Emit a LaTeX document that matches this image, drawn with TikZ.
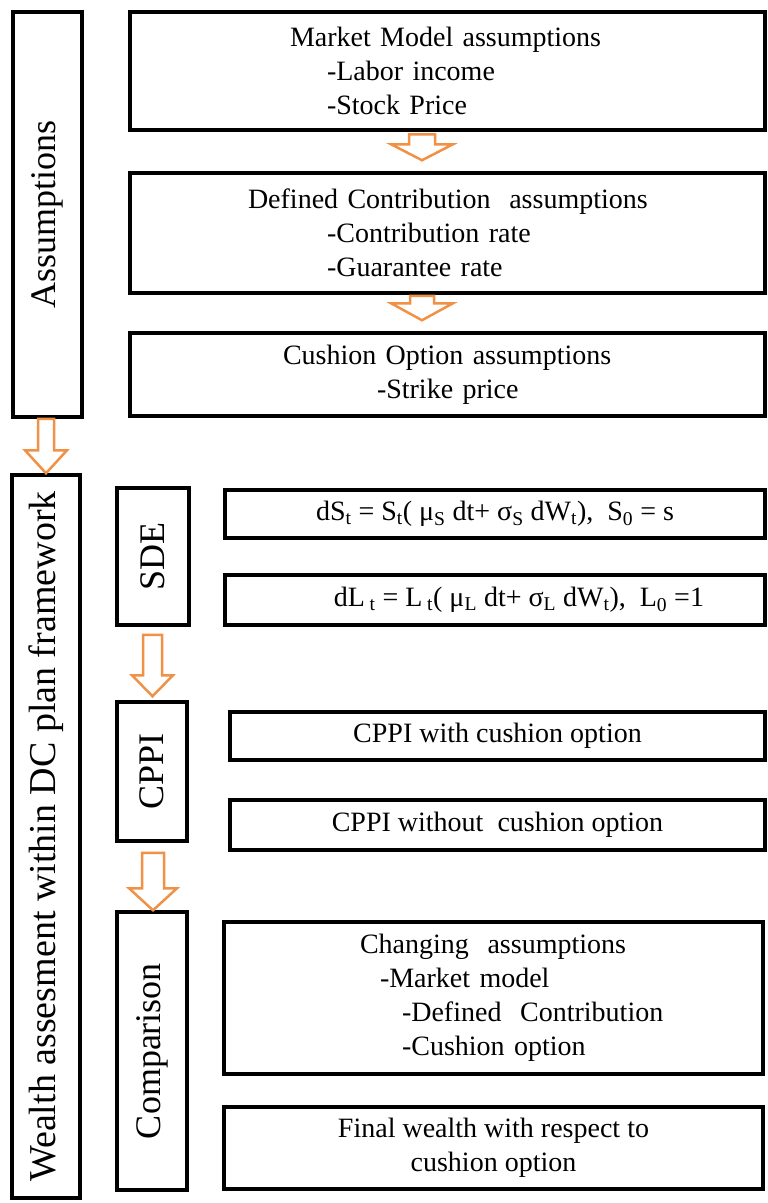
\documentclass[tikz,border=0pt]{standalone}
\usepackage{fontspec}
\setmainfont{Liberation Serif}
\usetikzlibrary{calc}
\definecolor{arrowc}{RGB}{240,145,70}
\tikzset{
  box/.style={draw=black, line width=3.5pt, rectangle, inner sep=0pt, font=\fontsize{28}{34}\selectfont},
  vbox/.style={box, rotate=90, font=\fontsize{36}{40}\selectfont},
  barrow/.style={draw=arrowc, line width=2.5pt, fill=white, line join=miter},
}
\newcommand\blockarrow[5]{%
  \draw[barrow] ($(#1)+(-#3,0)$) -- ($(#1)+(#3,0)$) -- ($(#2)+(#3,-#5)$) -- ($(#2)+(#4,-#5)$) -- (#2) -- ($(#2)+(-#4,-#5)$) -- ($(#2)+(-#3,-#5)$) -- cycle;}
\begin{document}
\begin{tikzpicture}[x=1pt,y=-1pt]
\useasboundingbox (0,0) rectangle (768,1203);
% left column
\node[vbox, minimum width=405pt, minimum height=69pt] (assum) at (47.5,214.5) {Assumptions};
\node[vbox, minimum width=723pt, minimum height=68pt, font=\fontsize{38}{42}\selectfont] (wealth) at (46,836.5) {Wealth assesment within DC plan framework};
% assumptions boxes
\node[box, minimum width=635pt, minimum height=118pt, text width=635pt, align=left] (market) at (447.5,71)
  {\hspace*{160pt}Market Model assumptions\\\hspace*{197pt}-Labor income\\\hspace*{197pt}-Stock Price};
\node[box, minimum width=635pt, minimum height=120pt, text width=635pt, align=left] (dc) at (447.5,233)
  {\hspace*{118pt}Defined Contribution~ assumptions\\\hspace*{197pt}-Contribution rate\\\hspace*{197pt}-Guarantee rate};
\node[box, minimum width=635pt, minimum height=83pt, text width=635pt, align=left] (cush) at (447.5,374.5)
  {\hspace*{153pt}Cushion Option assumptions\\\hspace*{247pt}-Strike price};
% middle column
\node[vbox, minimum width=137pt, minimum height=72pt] (sde) at (153,556.5) {SDE};
\node[vbox, minimum width=139pt, minimum height=70pt] (cppi) at (152,771.5) {CPPI};
\node[vbox, minimum width=278pt, minimum height=70pt] (comp) at (152,1051) {Comparison};
% right column
\node[box, minimum width=540pt, minimum height=48pt] (f1) at (495,514)
  {dS\textsubscript{t} = S\textsubscript{t}( μ\textsubscript{S} dt+ σ\textsubscript{S} dW\textsubscript{t}),~ S\textsubscript{0} = s};
\node[box, minimum width=540pt, minimum height=50pt] (f2) at (495,600)
  {\hspace*{48pt}dL\,\textsubscript{t} = L\,\textsubscript{t}( μ\textsubscript{L} dt+ σ\textsubscript{L} dW\textsubscript{t}),~ L\textsubscript{0} =1};
\node[box, minimum width=535pt, minimum height=48pt] (cw) at (497.5,736) {CPPI with cushion option};
\node[box, minimum width=535pt, minimum height=50pt] (cwo) at (497.5,825) {CPPI without~ cushion option};
\node[box, minimum width=539pt, minimum height=152pt, text width=539pt, align=left] (chg) at (493.5,998)
  {\hspace*{136pt}Changing~ assumptions\\\hspace*{156pt}-Market model\\\hspace*{178pt}-Defined~ Contribution\\\hspace*{178pt}-Cushion option};
\node[box, minimum width=539pt, minimum height=82pt, align=center] (fin) at (493.5,1148)
  {Final wealth with respect to\\cushion option};
% arrows
\coordinate (a1s) at ($(market.south)+(-25.5,2.5)$);
\coordinate (a1t) at ($(a1s |- dc.north)+(0,-11)$);
\blockarrow{a1s}{a1t}{13}{31}{16}
\coordinate (a2s) at ($(dc.south)+(-25.5,1)$);
\coordinate (a2t) at ($(a2s |- cush.north)+(0,-11)$);
\blockarrow{a2s}{a2t}{12}{31}{17}
\coordinate (a3s) at ($(assum.west)+(-1.5,0)$);
\coordinate (a3t) at (a3s |- wealth.east);
\blockarrow{a3s}{a3t}{8}{21}{23}
\coordinate (a4s) at ($(sde.west)+(-0.5,8)$);
\coordinate (a4t) at ($(a4s |- cppi.east)+(0,-4)$);
\blockarrow{a4s}{a4t}{9.5}{20.5}{21}
\coordinate (a5s) at ($(cppi.west)+(1,10)$);
\coordinate (a5t) at (a5s |- comp.east);
\blockarrow{a5s}{a5t}{11}{24}{22}
\end{tikzpicture}
\end{document}
